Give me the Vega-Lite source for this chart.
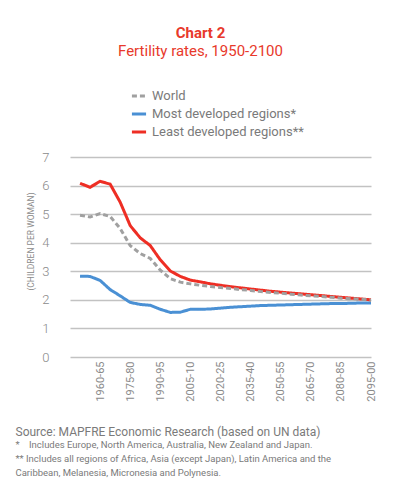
{
  "$schema": "https://vega.github.io/schema/vega-lite/v6.json",
  "width": 301,
  "height": 200,
  "autosize": "none",
  "padding": {"left": 70, "top": 157, "right": 29, "bottom": 133},
  "background": "white",
  "config": {"view": {"stroke": null}},
  "title": {
    "text": "Chart 2",
    "subtitle": "Fertility rates, 1950-2100",
    "anchor": "middle",
    "dx": -20,
    "offset": 28,
    "font": "Roboto",
    "fontSize": 15,
    "fontWeight": "bold",
    "color": "#e8392b",
    "subtitleFont": "Roboto",
    "subtitleFontSize": 15,
    "subtitleColor": "#e8392b",
    "subtitlePadding": 3
  },
  "data": {
    "values": [
      {"year": 1950, "World": 4.96, "Most developed regions*": 2.83, "Least developed regions**": 6.08},
      {"year": 1955, "World": 4.90, "Most developed regions*": 2.82, "Least developed regions**": 5.94},
      {"year": 1960, "World": 5.02, "Most developed regions*": 2.68, "Least developed regions**": 6.15},
      {"year": 1965, "World": 4.92, "Most developed regions*": 2.36, "Least developed regions**": 6.05},
      {"year": 1970, "World": 4.50, "Most developed regions*": 2.14, "Least developed regions**": 5.42},
      {"year": 1975, "World": 3.90, "Most developed regions*": 1.91, "Least developed regions**": 4.60},
      {"year": 1980, "World": 3.62, "Most developed regions*": 1.84, "Least developed regions**": 4.17},
      {"year": 1985, "World": 3.45, "Most developed regions*": 1.81, "Least developed regions**": 3.90},
      {"year": 1990, "World": 3.04, "Most developed regions*": 1.67, "Least developed regions**": 3.40},
      {"year": 1995, "World": 2.74, "Most developed regions*": 1.56, "Least developed regions**": 3.01},
      {"year": 2000, "World": 2.62, "Most developed regions*": 1.57, "Least developed regions**": 2.82},
      {"year": 2005, "World": 2.56, "Most developed regions*": 1.67, "Least developed regions**": 2.69},
      {"year": 2010, "World": 2.51, "Most developed regions*": 1.67, "Least developed regions**": 2.63},
      {"year": 2015, "World": 2.47, "Most developed regions*": 1.68, "Least developed regions**": 2.56},
      {"year": 2020, "World": 2.43, "Most developed regions*": 1.71, "Least developed regions**": 2.51},
      {"year": 2025, "World": 2.40, "Most developed regions*": 1.74, "Least developed regions**": 2.46},
      {"year": 2030, "World": 2.36, "Most developed regions*": 1.76, "Least developed regions**": 2.42},
      {"year": 2035, "World": 2.33, "Most developed regions*": 1.78, "Least developed regions**": 2.38},
      {"year": 2040, "World": 2.29, "Most developed regions*": 1.80, "Least developed regions**": 2.34},
      {"year": 2045, "World": 2.26, "Most developed regions*": 1.81, "Least developed regions**": 2.30},
      {"year": 2050, "World": 2.23, "Most developed regions*": 1.82, "Least developed regions**": 2.27},
      {"year": 2055, "World": 2.20, "Most developed regions*": 1.83, "Least developed regions**": 2.24},
      {"year": 2060, "World": 2.17, "Most developed regions*": 1.84, "Least developed regions**": 2.21},
      {"year": 2065, "World": 2.14, "Most developed regions*": 1.85, "Least developed regions**": 2.18},
      {"year": 2070, "World": 2.12, "Most developed regions*": 1.86, "Least developed regions**": 2.15},
      {"year": 2075, "World": 2.09, "Most developed regions*": 1.87, "Least developed regions**": 2.12},
      {"year": 2080, "World": 2.06, "Most developed regions*": 1.87, "Least developed regions**": 2.09},
      {"year": 2085, "World": 2.04, "Most developed regions*": 1.88, "Least developed regions**": 2.06},
      {"year": 2090, "World": 2.02, "Most developed regions*": 1.89, "Least developed regions**": 2.03},
      {"year": 2095, "World": 1.99, "Most developed regions*": 1.89, "Least developed regions**": 2.00}
    ]
  },
  "transform": [
    {"fold": ["Most developed regions*", "Least developed regions**", "World"], "as": ["series", "rate"]}
  ],
  "resolve": {"axis": {"x": "independent", "y": "independent"}},
  "layer": [
    {
      "mark": {"type": "line", "strokeWidth": 3},
      "encoding": {
        "x": {
          "field": "year",
          "type": "quantitative",
          "scale": {"domain": [1945, 2095], "nice": false, "zero": false},
          "axis": {
            "values": [1960, 1975, 1990, 2005, 2020, 2035, 2050, 2065, 2080, 2095],
            "labelExpr": "datum.value + '-' + ((datum.value + 5) % 100 < 10 ? '0' : '') + ((datum.value + 5) % 100)",
            "labelAngle": -90,
            "labelAlign": "right",
            "labelBaseline": "middle",
            "labelPadding": 4,
            "labelFont": "Liberation Sans Narrow, Roboto, sans-serif",
            "labelFontSize": 11,
            "labelColor": "#8a8a8a",
            "labelFlush": false,
            "labelOverlap": false,
            "ticks": false,
            "domain": false,
            "grid": false,
            "title": "Source: MAPFRE Economic Research (based on UN data)",
            "titleFont": "Roboto",
            "titleFontSize": 12,
            "titleFontWeight": "normal",
            "titleColor": "#7a7a7a",
            "titleAlign": "left",
            "titleAnchor": "start",
            "titleBaseline": "alphabetic",
            "titleX": -55,
            "titleY": 78
          }
        },
        "y": {
          "field": "rate",
          "type": "quantitative",
          "scale": {"domain": [0, 7], "nice": false},
          "axis": {
            "values": [0, 1, 2, 3, 4, 5, 6, 7],
            "labelOverlap": false,
            "grid": true,
            "gridColor": "#c2c2c2",
            "gridWidth": 1.5,
            "gridOpacity": 1,
            "ticks": false,
            "domain": false,
            "labelFont": "Roboto",
            "labelFontSize": 13,
            "labelFontWeight": 300,
            "labelColor": "#8a8a8a",
            "labelPadding": 21,
            "title": "(CHILDREN PER WOMAN)",
            "titleFont": "Roboto",
            "titleFontSize": 8.5,
            "titleFontWeight": "normal",
            "titleColor": "#8a8a8a",
            "titleAngle": -90,
            "titleAlign": "center",
            "titleBaseline": "middle",
            "titleX": -40,
            "titleY": 84
          }
        },
        "color": {
          "field": "series",
          "type": "nominal",
          "scale": {
            "domain": ["World", "Most developed regions*", "Least developed regions**"],
            "range": ["#a0a0a0", "#4a90d4", "#ee2e24"]
          },
          "legend": {
            "title": null,
            "orient": "none",
            "legendX": 60,
            "legendY": -70,
            "padding": 0,
            "symbolType": "stroke",
            "symbolStrokeWidth": 3,
            "symbolSize": 200,
            "labelFont": "Roboto",
            "labelFontSize": 13,
            "labelColor": "#7a7a7a",
            "rowPadding": 2
          }
        },
        "strokeDash": {
          "field": "series",
          "type": "nominal",
          "scale": {
            "domain": ["World", "Most developed regions*", "Least developed regions**"],
            "range": [[5, 3], [1, 0], [1, 0]]
          },
          "legend": {
            "title": null,
            "orient": "none",
            "legendX": 60,
            "legendY": -70,
            "padding": 0,
            "symbolType": "stroke",
            "symbolStrokeWidth": 3,
            "symbolSize": 200,
            "labelFont": "Roboto",
            "labelFontSize": 13,
            "labelColor": "#7a7a7a",
            "rowPadding": 2
          }
        }
      }
    },
    {
      "mark": {"type": "line", "opacity": 0},
      "encoding": {
        "x": {
          "field": "year",
          "type": "quantitative",
          "axis": {
            "orient": "top",
            "labels": false,
            "ticks": false,
            "domain": false,
            "grid": false,
            "title": [
              "*\u00a0\u00a0\u00a0\u00a0Includes Europe, North America, Australia, New Zealand and Japan.",
              "** Includes all regions of Africa, Asia (except Japan), Latin America and the",
              "Caribbean, Melanesia, Micronesia and Polynesia."
            ],
            "titleFont": "Roboto",
            "titleFontSize": 9.5,
            "titleFontWeight": "normal",
            "titleColor": "#7a7a7a",
            "titleAlign": "left",
            "titleAnchor": "start",
            "titleBaseline": "top",
            "titleLineHeight": 14,
            "titleX": -55,
            "titleY": 282
          }
        },
        "y": {"field": "rate", "type": "quantitative", "axis": null},
        "detail": {"field": "series"}
      }
    }
  ]
}
